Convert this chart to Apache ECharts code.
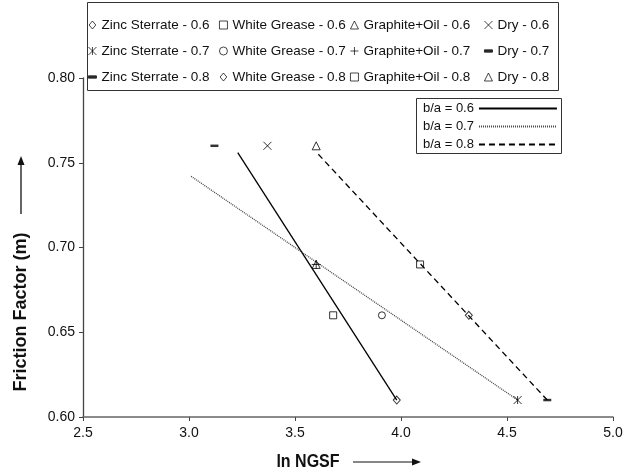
<!DOCTYPE html>
<html>
<head>
<meta charset="utf-8">
<script src="https://cdn.jsdelivr.net/npm/echarts@6/dist/echarts.min.js"></script>
<style>html,body{margin:0;padding:0;background:#fff}#c{width:635px;height:471px}</style>
</head>
<body>
<div id="c"></div>
<script>
// ---- data (ln NGSF, friction factor m) ----
const xTicks = [2.5, 3.0, 3.5, 4.0, 4.5, 5.0];
const yTicks = [0.60, 0.65, 0.70, 0.75, 0.80];
const ratios = ['0.6', '0.7', '0.8'];
const zincSterrate = [[3.98, 0.61], [4.55, 0.61], [4.69, 0.61]];
const whiteGrease  = [[3.68, 0.66], [3.91, 0.66], [4.32, 0.66]];
const graphiteOil  = [[3.60, 0.69], [3.60, 0.69], [4.09, 0.69]];
const dry          = [[3.37, 0.76], [3.12, 0.76], [3.60, 0.76]];
const fit06 = [[3.23, 0.756], [3.98, 0.61]];
const fit07 = [[3.01, 0.742], [4.55, 0.61]];
const fit08 = [[3.61, 0.755], [4.69, 0.61]];

const S = {
  diamond: 'path://M5,0L10,6L5,12L0,6Z',
  square: 'rect',
  triangle: 'triangle',
  cross: 'path://M0,0L10,10M10,0L0,10',
  asterisk: 'path://M0,0L10,10M10,0L0,10M5,0L5,10',
  circle: 'circle',
  plus: 'path://M5,0L5,10M0,5L10,5',
  dash: 'path://M0,0L10,0L10,3L0,3Z'
};
const SZ = {diamond:[7,8], square:7, triangle:8, cross:8, asterisk:8, circle:7, plus:9, dash:[8,2.5]};

const groups = [
  {name: 'Zinc Sterrate', data: zincSterrate, sym: ['diamond', 'asterisk', 'dash']},
  {name: 'White Grease', data: whiteGrease, sym: ['square', 'circle', 'diamond']},
  {name: 'Graphite+Oil', data: graphiteOil, sym: ['triangle', 'plus', 'square']},
  {name: 'Dry', data: dry, sym: ['cross', 'dash', 'triangle']}
];

const series = [];
const fits = [[fit06, 'solid', '#000'], [fit07, [1, 1], '#444'], [fit08, [6, 4], '#000']];
fits.forEach((f, i) => {
  series.push({
    name: 'b/a = ' + ratios[i], type: 'line', data: f[0], symbol: 'none', z: 2,
    lineStyle: {color: f[2], width: 1.3, type: f[1]},
    itemStyle: {color: 'rgba(0,0,0,0)', borderWidth: 0}
  });
});
const legendCols = [];
groups.forEach(g => {
  const names = [];
  ratios.forEach((r, i) => {
    const s = g.sym[i];
    const filled = s === 'dash';
    const nm = g.name + ' - ' + r;
    names.push(nm);
    series.push({
      name: nm, type: 'scatter', data: [g.data[i]], z: 3,
      symbol: S[s], symbolSize: SZ[s],
      itemStyle: {color: filled ? '#000' : 'rgba(0,0,0,0)', borderColor: '#000', borderWidth: filled ? 0 : 1}
    });
  });
  legendCols.push(names);
});

const colLeft = [88, 219, 350, 484];
const legends = legendCols.map((names, i) => ({
  data: names, orient: 'vertical', left: colLeft[i], top: 18, itemGap: 12,
  itemWidth: 8, itemHeight: 8, selectedMode: false, padding: 0,
  itemStyle: {borderWidth: 0.9},
  textStyle: {fontFamily: 'Liberation Sans', fontSize: 13.5, color: '#111'}
}));
legends.push({
  data: ratios.map(r => 'b/a = ' + r), orient: 'vertical', left: 423, top: 102, itemGap: 5,
  itemWidth: 78, itemHeight: 13, align: 'right', selectedMode: false, padding: 0,
  textStyle: {fontFamily: 'Liberation Sans', fontSize: 13, color: '#111'}
});

const chart = echarts.init(document.getElementById('c'), null, {renderer: 'canvas'});
chart.setOption({
  animation: false,
  backgroundColor: '#fff',
  grid: {left: 83, right: 22, top: 78, bottom: 54},
  xAxis: {
    type: 'value', min: xTicks[0], max: xTicks[xTicks.length - 1], interval: 0.5,
    axisLine: {lineStyle: {color: '#666', width: 1.5}},
    axisTick: {show: true, length: 4, lineStyle: {color: '#444'}},
    splitLine: {show: false},
    axisLabel: {margin: 9, fontFamily: 'Liberation Sans', fontSize: 14, color: '#111',
      formatter: v => v.toFixed(1)}
  },
  yAxis: {
    type: 'value', min: yTicks[0], max: yTicks[yTicks.length - 1], interval: 0.05,
    axisLine: {show: true, lineStyle: {color: '#444', width: 1.3}},
    axisTick: {show: true, length: 4, lineStyle: {color: '#444'}},
    splitLine: {show: false},
    axisLabel: {margin: 8, fontFamily: 'Liberation Sans', fontSize: 14, color: '#111',
      formatter: v => v.toFixed(2)}
  },
  legend: legends,
  graphic: [
    {type: 'rect', shape: {x: 87.5, y: 2.5, width: 471, height: 88}, style: {fill: 'none', stroke: '#333', lineWidth: 1}, z: 10},
    {type: 'rect', shape: {x: 416.5, y: 98.5, width: 145, height: 55}, style: {fill: 'none', stroke: '#333', lineWidth: 1}, z: 10},
    {type: 'text', x: 308, y: 462, scaleX: 0.89, style: {text: 'ln NGSF', font: 'bold 18px "Liberation Sans"', fill: '#111', textAlign: 'center', textVerticalAlign: 'middle'}},
    {type: 'line', shape: {x1: 353, y1: 462, x2: 414, y2: 462}, style: {stroke: '#111', lineWidth: 1.2}},
    {type: 'polygon', shape: {points: [[421, 462], [412, 458.5], [412, 465.5]]}, style: {fill: '#111'}},
    {type: 'text', x: 21, y: 312, rotation: Math.PI / 2, style: {text: 'Friction Factor (m)', font: 'bold 18px "Liberation Sans"', fill: '#111', textAlign: 'center', textVerticalAlign: 'middle'}},
    {type: 'line', shape: {x1: 21, y1: 214, x2: 21, y2: 164}, style: {stroke: '#333', lineWidth: 1.5}},
    {type: 'polygon', shape: {points: [[21, 156], [17.5, 165], [24.5, 165]]}, style: {fill: '#111'}}
  ],
  series: series
});
</script>
</body>
</html>
